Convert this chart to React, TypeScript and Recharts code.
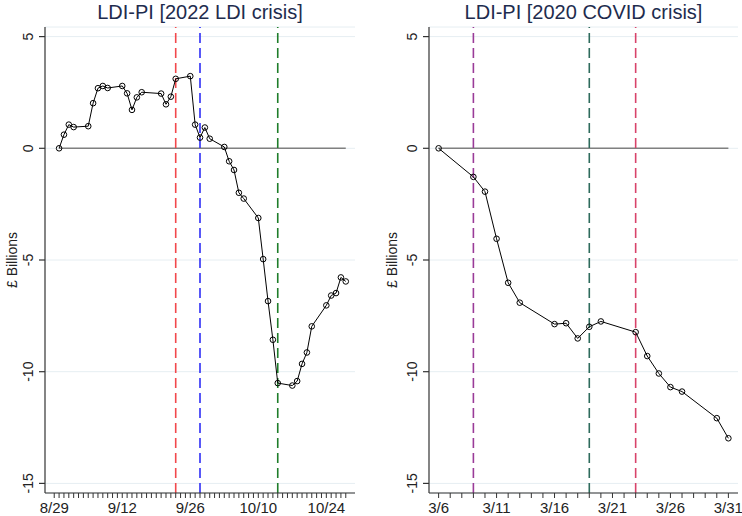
import { CartesianGrid, Line, LineChart, ReferenceLine, XAxis, YAxis } from "recharts";

const FONT = '"Liberation Sans", Arial, Helvetica, sans-serif';
const DAY_MS = 86400000;

// 2022 LDI crisis (business days)
const LDI_START = "2022-08-29";
const LDI_DATES = [
  "2022-08-30", "2022-08-31", "2022-09-01", "2022-09-02",
  "2022-09-05", "2022-09-06", "2022-09-07", "2022-09-08", "2022-09-09",
  "2022-09-12", "2022-09-13", "2022-09-14", "2022-09-15", "2022-09-16",
  "2022-09-20", "2022-09-21", "2022-09-22", "2022-09-23",
  "2022-09-26", "2022-09-27", "2022-09-28", "2022-09-29", "2022-09-30",
  "2022-10-03", "2022-10-04", "2022-10-05", "2022-10-06", "2022-10-07",
  "2022-10-10", "2022-10-11", "2022-10-12", "2022-10-13", "2022-10-14",
  "2022-10-17", "2022-10-18", "2022-10-19", "2022-10-20", "2022-10-21",
  "2022-10-24", "2022-10-25", "2022-10-26", "2022-10-27", "2022-10-28",
];
const LDI_VALUES = [
  0, 0.61, 1.06, 0.95,
  0.99, 2.02, 2.69, 2.79, 2.7,
  2.79, 2.46, 1.72, 2.28, 2.51,
  2.45, 1.97, 2.31, 3.11,
  3.23, 1.06, 0.48, 0.93, 0.43,
  0.06, -0.58, -0.97, -1.99, -2.25,
  -3.12, -4.96, -6.84, -8.57, -10.51,
  -10.62, -10.42, -9.65, -9.14, -7.97,
  -7.03, -6.59, -6.48, -5.78, -5.96,
];
const LDI_LABELS = ["2022-08-29", "2022-09-12", "2022-09-26", "2022-10-10", "2022-10-24"];
const LDI_EVENTS = [
  { date: "2022-09-23", color: "#f2484c" },
  { date: "2022-09-28", color: "#2f2ff5" },
  { date: "2022-10-14", color: "#1f7d2a" },
];

// 2020 COVID crisis
const COVID_START = "2020-03-06";
const COVID_DATES = [
  "2020-03-06", "2020-03-09", "2020-03-10", "2020-03-11", "2020-03-12", "2020-03-13",
  "2020-03-16", "2020-03-17", "2020-03-18", "2020-03-19", "2020-03-20",
  "2020-03-23", "2020-03-24", "2020-03-25", "2020-03-26", "2020-03-27",
  "2020-03-30", "2020-03-31",
];
const COVID_VALUES = [
  0, -1.28, -1.94, -4.05, -6.02, -6.91,
  -7.87, -7.83, -8.51, -7.99, -7.75,
  -8.23, -9.3, -10.08, -10.69, -10.89,
  -12.08, -12.98,
];
const COVID_LABELS = ["2020-03-06", "2020-03-11", "2020-03-16", "2020-03-21", "2020-03-26", "2020-03-31"];
const COVID_EVENTS = [
  { date: "2020-03-09", color: "#9a3b98" },
  { date: "2020-03-19", color: "#2e6b5c" },
  { date: "2020-03-23", color: "#d8436a" },
];

const Y_TICKS = [-15, -10, -5, 0, 5];
const Y_DOMAIN: [number, number] = [-15.43, 5.43];

const dayOf = (date: string, start: string) => Math.round((Date.parse(date) - Date.parse(start)) / DAY_MS);
const shortDate = (date: string) => {
  const [, m, d] = date.split("-");
  return `${Number(m)}/${Number(d)}`;
};

interface PanelProps {
  title: string;
  start: string;
  dates: string[];
  values: number[];
  labels: string[];
  events: { date: string; color: string }[];
  lastTick: string;
  domain: [number, number];
  left: number;
  width: number;
  yWidth: number;
  marginRight: number;
}

function Panel(p: PanelProps) {
  const rows = p.dates.map((d, i) => ({ day: dayOf(d, p.start), value: p.values[i] }));
  const lastDay = dayOf(p.lastTick, p.start);
  const ticks = Array.from({ length: lastDay + 1 }, (_, i) => i); // one tick a day
  const labelled = new Map(p.labels.map((d) => [dayOf(d, p.start), shortDate(d)]));
  const first = rows[0].day;
  const last = rows[rows.length - 1].day;
  const plotLeft = p.yWidth;
  const plotWidth = p.width - p.yWidth - p.marginRight;

  const XTick = ({ x, y, payload }: any) => {
    const text = labelled.get(payload.value);
    if (!text) return null;
    return (
      <text x={x} y={y + 13} textAnchor="middle" fontSize={15} fill="#222" fontFamily={FONT}>
        {text}
      </text>
    );
  };
  const YTick = ({ x, y, payload }: any) => {
    const bx = x - 4;
    return (
      <text x={bx} y={y} transform={`rotate(-90 ${bx} ${y})`} textAnchor="middle" fontSize={14} fill="#222" fontFamily={FONT}>
        {payload.value}
      </text>
    );
  };
  const YTitle = (props: any) => {
    const vb = props.viewBox;
    const cx = vb.x + 12;
    const cy = vb.y + vb.height / 2;
    return (
      <text x={cx} y={cy} transform={`rotate(-90 ${cx} ${cy})`} textAnchor="middle" dominantBaseline="central" fontSize={14} fill="#222" fontFamily={FONT}>
        £ Billions
      </text>
    );
  };

  return (
    <div style={{ position: "absolute", left: p.left, top: 0, width: p.width, height: 516 }}>
      <div
        style={{
          position: "absolute",
          left: plotLeft,
          width: plotWidth,
          top: 1,
          lineHeight: "22px",
          fontSize: 20,
          fontFamily: FONT,
          color: "#1e2c4e",
          textAlign: "center",
          whiteSpace: "nowrap",
        }}
      >
        {p.title}
      </div>
      <LineChart width={p.width} height={516} data={rows} margin={{ top: 27, right: p.marginRight, bottom: 0, left: 0 }}>
        <CartesianGrid vertical={false} stroke="#e6eef2" strokeWidth={1} />
        <XAxis
          type="number"
          dataKey="day"
          domain={p.domain}
          ticks={ticks}
          interval={0}
          allowDataOverflow
          height={23}
          tickSize={5}
          tickMargin={2}
          tick={<XTick />}
          stroke="#333"
          strokeWidth={1.2}
          tickLine={{ stroke: "#333", strokeWidth: 1 }}
        />
        <YAxis
          type="number"
          domain={Y_DOMAIN}
          ticks={Y_TICKS}
          interval={0}
          allowDataOverflow
          width={p.yWidth}
          tickSize={6}
          tickMargin={2}
          tick={<YTick />}
          stroke="#333"
          strokeWidth={1.2}
          label={YTitle}
        />
        <ReferenceLine
          segment={[
            { x: first, y: 0 },
            { x: last, y: 0 },
          ]}
          stroke="#808080"
          strokeWidth={1.5}
        />
        {p.events.map((e) => (
          <ReferenceLine key={e.date} x={dayOf(e.date, p.start)} stroke={e.color} strokeWidth={1.6} strokeDasharray="10 5" />
        ))}
        <Line
          dataKey="value"
          stroke="#000"
          strokeWidth={1}
          dot={{ r: 2.8, stroke: "#000", strokeWidth: 1, fill: "none" }}
          isAnimationActive={false}
        />
      </LineChart>
    </div>
  );
}

export default function App() {
  return (
    <div style={{ position: "absolute", left: 0, top: 0, width: 742, height: 516, background: "#fff", overflow: "hidden" }}>
      <Panel
        title="LDI-PI [2022 LDI crisis]"
        start={LDI_START}
        dates={LDI_DATES}
        values={LDI_VALUES}
        labels={LDI_LABELS}
        events={LDI_EVENTS}
        lastTick="2022-10-28"
        domain={[-1.9, 61.9]}
        left={0}
        width={370}
        yWidth={45}
        marginRight={15}
      />
      <Panel
        title="LDI-PI [2020 COVID crisis]"
        start={COVID_START}
        dates={COVID_DATES}
        values={COVID_VALUES}
        labels={COVID_LABELS}
        events={COVID_EVENTS}
        lastTick="2020-03-31"
        domain={[-0.83, 25.83]}
        left={380}
        width={362}
        yWidth={49}
        marginRight={4}
      />
    </div>
  );
}
